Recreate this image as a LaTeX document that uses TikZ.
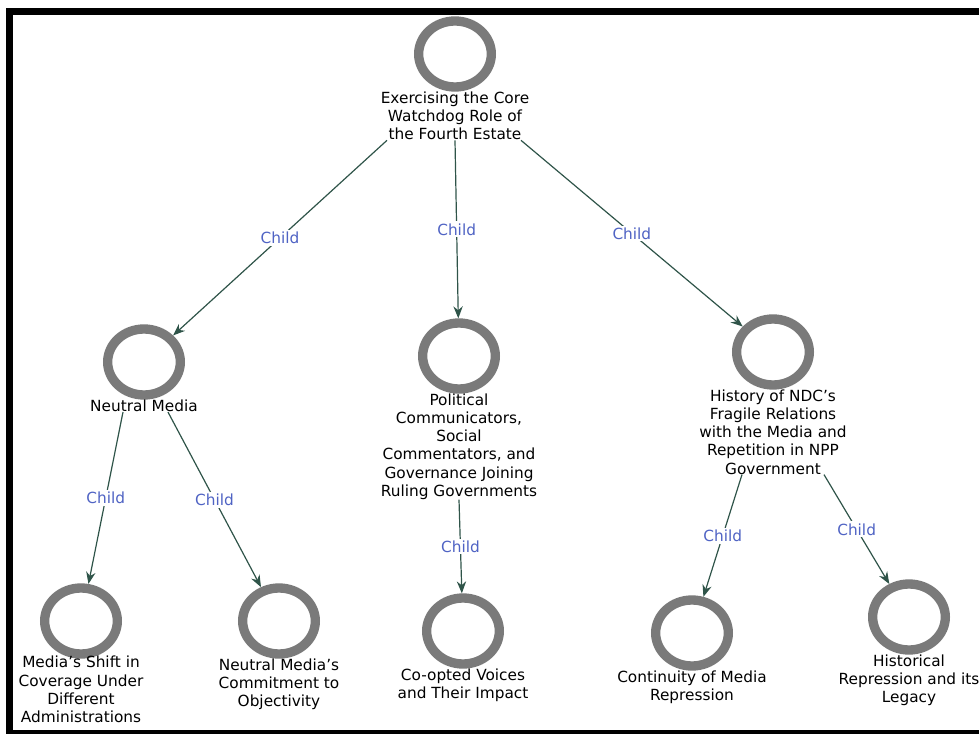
\documentclass[tikz,border=0pt]{standalone}
\usepackage{fontspec}
\setmainfont{DejaVu Sans}
\usetikzlibrary{arrows.meta,positioning,calc,shapes.geometric}
\definecolor{ringgray}{HTML}{7A7A7A}
\definecolor{linkgreen}{HTML}{2F5449}
\definecolor{childblue}{HTML}{4F63C4}
\tikzset{
  ring/.style={ellipse, draw=ringgray, line width=7pt, minimum width=54.5pt,
    minimum height=49.5pt, inner sep=0pt, outer sep=3.5pt},
  caption/.style={align=center, inner sep=0pt, font=\fontsize{11.5}{13.6}\selectfont},
  link/.style={draw=linkgreen, line width=0.9pt, -{Stealth[length=9pt,width=7pt]}},
  childlbl/.style={fill=white, text=childblue, inner sep=1.5pt, font=\fontsize{11.5}{14}\selectfont}
}

\begin{document}
\begin{tikzpicture}[x=0.75pt,y=-0.75pt]
\useasboundingbox (0,0) rectangle (979,734);
% frame
\fill (6,8) rectangle (979,15);
\fill (6,8) rectangle (13,734);
\fill (6,730) rectangle (979,734);

% concepts
\node[ring] (top) at (455,54) {};
\node[caption, below=0pt of top] (top-t) {Exercising the Core\\Watchdog Role of\\the Fourth Estate};

\node[ring] (nm) at (144,362) {};
\node[caption, below=0pt of nm] (nm-t) {Neutral Media};

\node[ring] (pc) at (459,356) {};
\node[caption, below=0pt of pc] (pc-t) {Political\\Communicators,\\Social\\Commentators, and\\Governance Joining\\Ruling Governments};

\node[ring] (hist) at (773,352) {};
\node[caption, below=0pt of hist] (hist-t) {History of NDC's\\Fragile Relations\\with the Media and\\Repetition in NPP\\Government};

\node[ring] (ms) at (81,621) {};
\node[caption, below=-2pt of ms] (ms-t) {Media's Shift in\\Coverage Under\\Different\\Administrations};

\node[ring] (nmc) at (279,621) {};
\node[caption, below=0pt of nmc] (nmc-t) {Neutral Media's\\Commitment to\\Objectivity};

\node[ring] (coop) at (463,631) {};
\node[caption, below=0pt of coop] (coop-t) {Co-opted Voices\\and Their Impact};

\node[ring] (cont) at (692,633) {};
\node[caption, below=0pt of cont] (cont-t) {Continuity of Media\\Repression};

\node[ring] (hr) at (909,617) {};
\node[caption, below=0pt of hr] (hr-t) {Historical\\Repression and its\\Legacy};

% links
\draw[link] ($(top-t.south)+(-68,0)$) -- node[childlbl] {Child} (nm);
\draw[link] (top-t.south) -- node[childlbl] {Child} (pc);
\draw[link] ($(top-t.south)+(66,0)$) -- node[childlbl] {Child} (hist);
\draw[link] ($(nm-t.south)+(-21,0)$) -- node[childlbl] {Child} (ms);
\draw[link] ($(nm-t.south)+(24,0)$) -- node[childlbl] {Child} (nmc);
\draw[link] (pc-t.south) -- node[childlbl] {Child} (coop);
\draw[link] ($(hist-t.south)+(-31,0)$) -- node[childlbl] {Child} (cont);
\draw[link] ($(hist-t.south)+(51,0)$) -- node[childlbl] {Child} (hr);
\end{tikzpicture}
\end{document}
